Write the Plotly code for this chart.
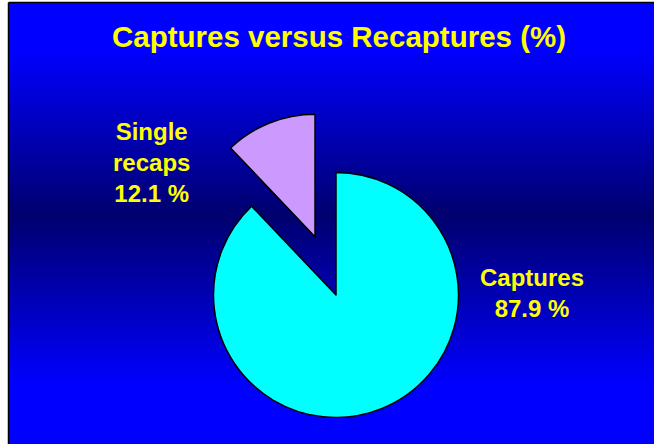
import plotly.graph_objects as go

# ---- data ----
categories = ["Captures", "Single recaps"]
label_lines = ["Captures", "Single<br>recaps"]
values = [87.9, 12.1]
slice_colors = ["#00FFFF", "#CC99FF"]
title_text = "Captures versus Recaptures (%)"

W, H = 654, 444

def px_x(x):
    return x / W

def px_y(y):
    return 1 - y / H

# ---- background gradient (blue -> navy -> blue) ----
def blue_level(y):
    top_b, mid, bot_b = 50.0, 215.0, 385.0
    hi, lo = 255.0, 110.0
    if y <= top_b or y >= bot_b:
        return hi
    if y <= mid:
        t = (y - top_b) / (mid - top_b)
    else:
        t = (bot_b - y) / (bot_b - mid)
    return hi - (hi - lo) * t

shapes = []
step = 3
y = 3
while y < H:
    yc = y + step / 2
    b = int(round(blue_level(yc)))
    shapes.append(dict(
        type="rect", xref="paper", yref="paper", layer="below",
        x0=px_x(8.5), x1=1.05, y0=px_y(min(y + step + 0.5, H + 5)), y1=px_y(y),
        fillcolor=f"rgb(0,0,{b})", line=dict(width=0),
    ))
    y += step
# border (left and top edges only)
shapes.append(dict(
    type="line", xref="paper", yref="paper", layer="below",
    x0=px_x(8.5), x1=px_x(8.5), y0=px_y(H + 5), y1=px_y(2.5),
    line=dict(color="black", width=1.5),
))
shapes.append(dict(
    type="line", xref="paper", yref="paper", layer="below",
    x0=px_x(8.5), x1=px_x(W + 5), y0=px_y(2.5), y1=px_y(2.5),
    line=dict(color="black", width=1.5),
))

# ---- pie geometry (pixels) ----
R = 122.5
main_c = (336, 295)      # centre of the unexploded slice
expl_c = (315, 236.7)    # centre (apex) of the exploded slice

def domain(c):
    cx, cy = c
    return dict(x=[px_x(cx - R), px_x(cx + R)], y=[px_y(cy + R), px_y(cy - R)])

fig = go.Figure()
# main pie: only captures visible
fig.add_trace(go.Pie(
    labels=categories, values=values, sort=False, direction="clockwise",
    rotation=0, textinfo="none", hoverinfo="label+percent",
    marker=dict(colors=[slice_colors[0], "rgba(0,0,0,0)"],
                line=dict(color="black", width=[1.5, 0])),
    domain=domain(main_c), showlegend=False,
))
# exploded slice: only single recaps visible
fig.add_trace(go.Pie(
    labels=categories, values=values, sort=False, direction="clockwise",
    rotation=0, textinfo="none", hoverinfo="label+percent",
    marker=dict(colors=["rgba(0,0,0,0)", slice_colors[1]],
                line=dict(color="black", width=[0, 1.5])),
    domain=domain(expl_c), showlegend=False,
))

label_pos = [(532, 292.5), (151, 162.5)]
annotations = []
for (lx, ly), lab, v in zip(label_pos, label_lines, values):
    annotations.append(dict(
        x=px_x(lx), y=px_y(ly), xref="paper", yref="paper",
        text=f"{lab}<br>{v} %", showarrow=False, xanchor="center", yanchor="middle",
        align="center",
        font=dict(family="Liberation Sans, Arial, sans-serif", size=24,
                  color="#FFFF00", weight="bold"),
    ))

fig.update_layout(
    width=W, height=H, margin=dict(l=0, r=0, t=0, b=0),
    paper_bgcolor="white", plot_bgcolor="white",
    shapes=shapes, annotations=annotations,
    title=dict(text=title_text, x=px_x(339), y=px_y(37), xanchor="center", yanchor="middle",
               xref="paper", yref="container",
               font=dict(family="Liberation Sans, Arial, sans-serif", size=29.5,
                         color="#FFFF00", weight="bold")),
    showlegend=False,
)

fig.write_html("out.html", config={"displayModeBar": False},
               post_script="document.body.style.margin='0px';document.body.style.overflow='hidden';")
